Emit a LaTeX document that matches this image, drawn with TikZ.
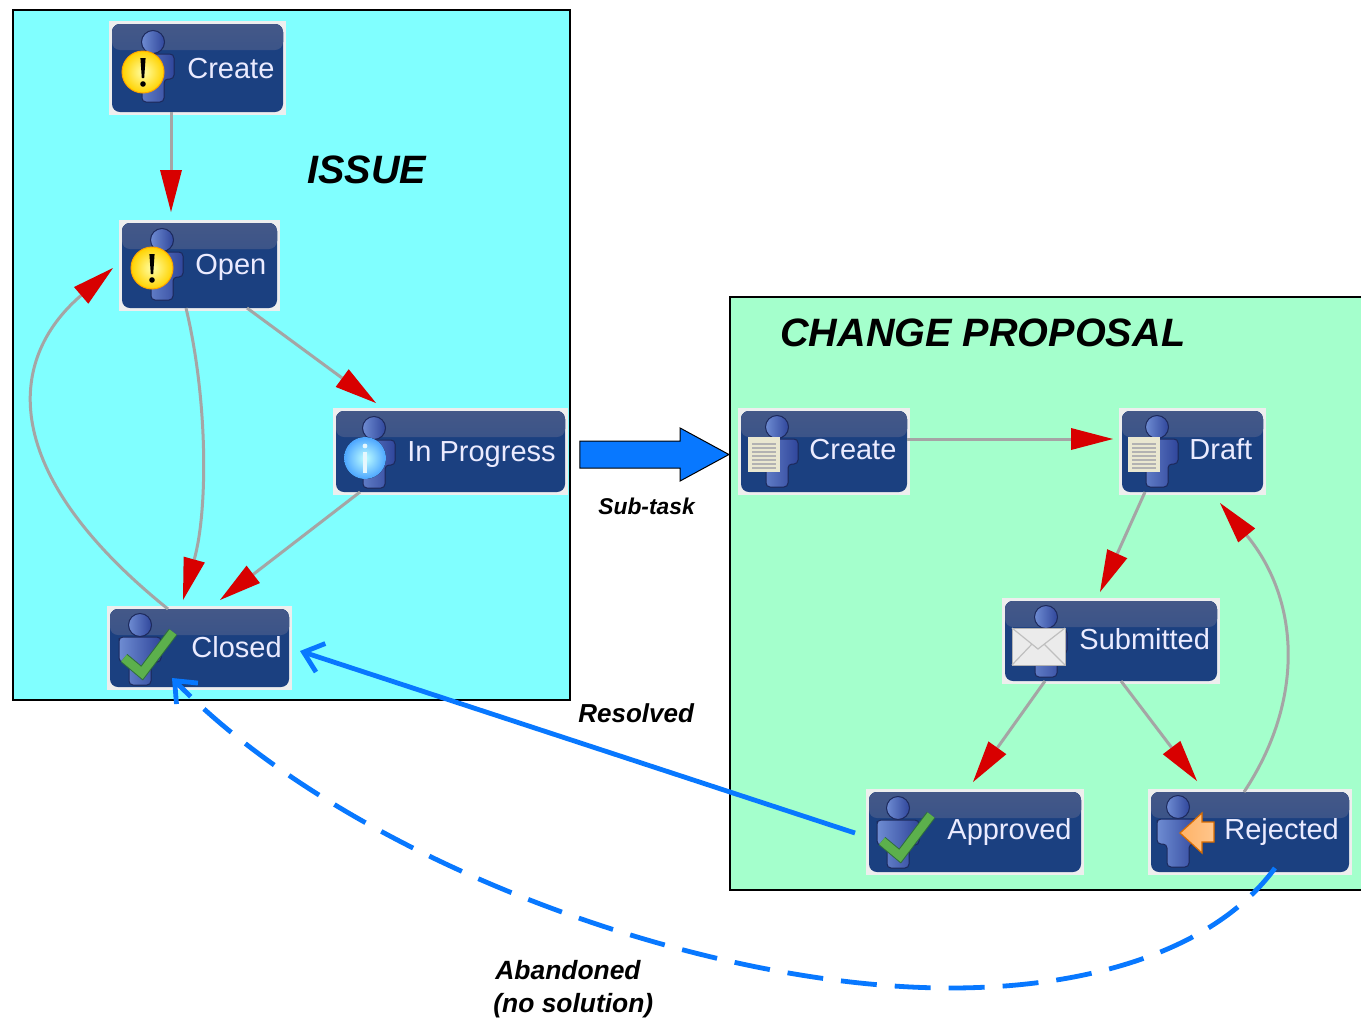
\documentclass[tikz,border=0pt]{standalone}
\usepackage{fontspec}
\setmainfont{Liberation Sans}
\usepackage{xcolor}
\usetikzlibrary{arrows.meta, shapes.arrows}
\definecolor{issuecolor}{RGB}{128,255,255}
\definecolor{changecolor}{RGB}{164,255,204}
\definecolor{boxcolor}{RGB}{27,64,128}
\definecolor{boxtopcolor}{RGB}{68,88,136}
\definecolor{halocolor}{RGB}{238,238,238}
\definecolor{linecolor}{RGB}{165,165,165}
\definecolor{tipcolor}{RGB}{216,0,0}
\definecolor{flowcolor}{RGB}{8,120,255}
\definecolor{manlight}{RGB}{110,140,210}
\definecolor{mandark}{RGB}{48,70,155}
\definecolor{checkcolor}{RGB}{92,176,76}
\definecolor{checkedge}{RGB}{48,110,62}
\tikzset{
  panel/.style={draw=black, line width=0.8pt, inner sep=0pt, outer sep=0pt},
  halobox/.style={fill=halocolor, inner sep=0pt, outer sep=0pt},
  statebox/.style={fill=boxcolor, rounded corners=4pt, inner sep=0pt, outer sep=0pt,
    path picture={\fill[top color=boxtopcolor, bottom color=boxcolor!94!white]
      (path picture bounding box.north west) rectangle
      ([yshift=-13pt]path picture bounding box.north east);}},
  statetext/.style={anchor=base west, inner sep=0pt, text=white!92!blue, font=\fontsize{14.5}{16}\selectfont},
  title/.style={anchor=base west, inner sep=0pt, font=\fontsize{19.8}{22}\selectfont\bfseries\itshape},
  flowlabel/.style={anchor=base west, inner sep=0pt, font=\fontsize{13.2}{15}\selectfont\bfseries\itshape},
  trans/.style={draw=linecolor, line width=1.5pt,
    -{Triangle[length=21pt, width=11pt, color=tipcolor, fill=tipcolor, line width=0pt]}},
  flow/.style={draw=flowcolor, line width=2.4pt, -{Straight Barb[length=9pt, width=15pt]}},
  person/.pic={
    \fill[left color=manlight, right color=mandark, draw=mandark!60!black, line width=0.5pt]
      (-21,17) [rounded corners=2pt] -- (-21,12) -- (21,12) -- (21,37) -- (11,37) -- (11,60) -- (-11,60) -- (-11,37) -- (-21,37) -- cycle;
    \fill[left color=manlight, right color=mandark, draw=mandark!60!black, line width=0.5pt] (0,0) circle (11.5);
  },
  warnbadge/.pic={
    \fill[inner color=yellow!35!white, outer color=yellow!65!orange, draw=orange!70!yellow, line width=0.5pt] (0,0) circle (21);
    \fill[black] (-2.6,-14) -- (2.6,-14) -- (1.2,6) -- (-1.2,6) -- cycle;
    \fill[black] (0,12) circle (2.8);
  },
  infobadge/.pic={
    \fill[inner color=cyan!25!white, outer color=cyan!50!blue!70!white] (0,0) circle (21);
    \fill[white!90!cyan] (-1.8,-6) rectangle (1.8,15);
    \fill[white!90!cyan] (0,-12) circle (2.4);
  },
  checkbadge/.pic={
    \draw[checkedge, line width=5.2pt, miter limit=10] (-16,33) -- (2,48) -- (33,7);
    \draw[checkcolor, line width=4.2pt, miter limit=10] (-16,33) -- (2,48) -- (33,7);
  },
  docbadge/.pic={
    \fill[white!88!yellow!90!black] (-29,10) rectangle (3,45);
    \foreach \ypos in {17,21,25,29,33,37,41}
      \draw[black!30, line width=0.7pt] (-25,\ypos) -- (-1,\ypos);
  },
  mailbadge/.pic={
    \fill[white!92!black, draw=black!30, line width=0.5pt] (-34,11) rectangle (19,48);
    \draw[black!25, line width=0.6pt] (-34,11) -- (-8,32) -- (19,11) (-34,48) -- (-14,27) (19,48) -- (-2,27);
  },
  backbadge/.pic={
    \fill[left color=orange!60!white, right color=orange!45!white, draw=orange!85!black, line width=0.6pt]
      (2,26) -- (24,6) -- (24,15) -- (36,15) -- (36,35) -- (24,35) -- (24,46) -- cycle;
  }
}
\newcommand{\statenode}[8]{
  \node[halobox, minimum width=#4*0.5pt+3pt, minimum height=#5*0.5pt+3pt] (#1halo) at (#2,#3) {};
  \node[statebox, minimum width=#4*0.5pt, minimum height=#5*0.5pt] (#1) at (#2,#3) {};
  \node[statetext] (#1text) at (#6,#7) {#8};
}
\begin{document}
\begin{tikzpicture}[x=0.5pt, y=-0.5pt]
  \useasboundingbox (0,0) rectangle (1361,1018);
  \fill[white] (0,0) rectangle (1361,1018);

  \node[panel, fill=issuecolor, minimum width=278.5pt, minimum height=345pt] (issuepanel) at (291.5,355) {};
  \node[panel, fill=changecolor, minimum width=340pt, minimum height=296.5pt] (changepanel) at (1070,593.5) {};

  \node[title] (issuetitle) at (307,183) {ISSUE};
  \node[title] (changetitle) at (780,346) {CHANGE PROPOSAL};

  % issue states
  \statenode{create}{197.5}{68}{171}{88}{187}{78}{Create}
  \statenode{open}{199.5}{265.5}{155}{85}{195}{274}{Open}
  \statenode{progress}{450.5}{451.5}{229}{81}{407}{461}{In Progress}
  \statenode{closed}{199.5}{648}{179}{78}{191}{657}{Closed}
  \pic (createman) at (153,42) {person};
  \pic (openman) at (162,240) {person};
  \pic (progressman) at (374,428) {person};
  \pic (closedman) at (140,625) {person};
  \pic (createwarn) at (143,72) {warnbadge};
  \pic (openwarn) at (152,268) {warnbadge};
  \pic (progressinfo) at (365,458) {infobadge};
  \pic (closedcheck) at (140,625) {checkbadge};

  % change proposal states
  \statenode{newcp}{824}{451.5}{166}{81}{809}{459}{Create}
  \statenode{draft}{1192.5}{451.5}{141}{81}{1189}{459}{Draft}
  \statenode{submitted}{1111}{641}{212}{80}{1079}{649}{Submitted}
  \statenode{approved}{975}{832}{212}{80}{947}{839}{Approved}
  \statenode{rejected}{1250}{832}{198}{80}{1224}{839}{Rejected}
  \pic (newcpman) at (777,427) {person};
  \pic (draftman) at (1157,427) {person};
  \pic (submittedman) at (1046,617) {person};
  \pic (approvedman) at (898,808) {person};
  \pic (rejectedman) at (1178,807) {person};
  \pic (newcpdoc) at (777,427) {docbadge};
  \pic (draftdoc) at (1157,427) {docbadge};
  \pic (submittedmail) at (1046,617) {mailbadge};
  \pic (approvedcheck) at (898,808) {checkbadge};
  \pic (rejectedback) at (1178,807) {backbadge};

  % transitions
  \draw[trans] ([shift={(-26.5,0)}]create.south) -- ([shift={(-28.5,-11)}]open.north);
  \draw[trans] ([shift={(-13.5,0)}]open.south) .. controls (208,400) and (208,510) .. ([shift={(-16.5,-9)}]closed.north);
  \draw[trans] ([shift={(-31.5,0)}]closed.north) .. controls (-2,472) and (6,360) .. ([shift={(-9,2.5)}]open.west);
  \draw[trans] ([shift={(47.5,0)}]open.south) -- ([shift={(-74.5,-8)}]progress.north);
  \draw[trans] ([shift={(-90.5,0)}]progress.south) -- ([shift={(20.5,-9)}]closed.north);
  \draw[trans] ([shift={(0,-12.5)}]newcp.east) -- ([shift={(-9,-12.5)}]draft.west);
  \draw[trans] ([shift={(-47.5,0)}]draft.south) -- ([shift={(-11,-9)}]submitted.north);
  \draw[trans] ([shift={(-6,0)}]rejected.north) .. controls (1305,700) and (1300,600) .. ([shift={(27.5,11)}]draft.south);
  \draw[trans] ([shift={(-66,0)}]submitted.south) -- ([shift={(-2,-10)}]approved.north);
  \draw[trans] ([shift={(10,0)}]submitted.south) -- ([shift={(-53,-11)}]rejected.north);

  % links between the two panels
  \node[single arrow, draw=black, line width=0.5pt, fill=flowcolor, inner xsep=0pt, inner ysep=6.5pt, outer sep=0pt,
    minimum height=74.5pt, single arrow head extend=6.5pt, single arrow tip angle=57] (subtaskarrow) at (642,454.5) {};
  \draw[flow] ([shift={(-14,1)}]approved.west) -- ([shift={(11,3)}]closed.east);
  \draw[flow, dash pattern=on 18pt off 9pt] ([shift={(25,-4)}]rejected.south) .. controls (1215,950) and (1090,988) .. (950,988)
    .. controls (700,988) and (350,860) .. ([shift={(-27.5,-9)}]closed.south);
  \node[flowlabel, font=\fontsize{11.4}{13}\selectfont\bfseries\itshape] (subtasklabel) at (598,514) {Sub-task};
  \node[flowlabel, font=\fontsize{13}{15}\selectfont\bfseries\itshape] (resolvedlabel) at (578,722) {Resolved};
  \node[flowlabel] (abandonedlabel) at (495,979) {Abandoned};
  \node[flowlabel] (nosolutionlabel) at (493,1012) {(no solution)};
\end{tikzpicture}
\end{document}
